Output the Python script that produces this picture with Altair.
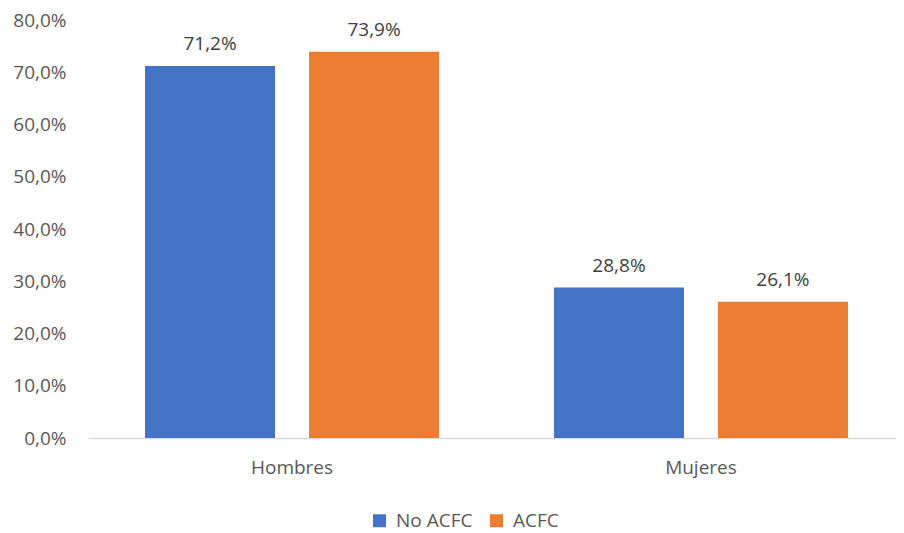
import altair as alt
import pandas as pd

categories = ["Hombres", "Mujeres"]
series = ["No ACFC", "ACFC"]
no_acfc = [0.712, 0.288]
acfc = [0.739, 0.261]

rows = []
for i, c in enumerate(categories):
    rows.append({"cat": c, "serie": series[0], "val": no_acfc[i]})
    rows.append({"cat": c, "serie": series[1], "val": acfc[i]})
df = pd.DataFrame(rows)

FONT = "Open Sans"
GRAY = "#595959"
FS = 19

base = alt.Chart(df).encode(
    x=alt.X("cat:N", sort=categories, title=None,
            scale=alt.Scale(range=[0, 817], paddingInner=0.281, paddingOuter=0.1394),
            axis=alt.Axis(labelAngle=0, labelFont=FONT, labelFontSize=FS, labelColor=GRAY,
                          labelPadding=20, ticks=False, domainColor="#D9D9D9", domainWidth=1.5)),
    xOffset=alt.XOffset("serie:N", sort=series,
                        scale=alt.Scale(paddingInner=0.207, paddingOuter=0)),
    y=alt.Y("val:Q", title=None,
            scale=alt.Scale(domain=[0, 0.8], nice=False),
            axis=alt.Axis(values=[0, 0.1, 0.2, 0.3, 0.4, 0.5, 0.6, 0.7, 0.8],
                          labelExpr="replace(format(datum.value, '.1%'), '.', ',')",
                          labelFont=FONT, labelFontSize=FS, labelColor=GRAY,
                          labelPadding=22, ticks=False, domain=False, grid=False)),
)

bars = base.mark_bar().encode(
    color=alt.Color("serie:N", sort=series,
                    scale=alt.Scale(domain=series, range=["#4472C4", "#ED7D31"]),
                    legend=alt.Legend(title=None, orient="none", direction="horizontal",
                                      legendX=282, legendY=491, symbolType="square",
                                      symbolSize=169, symbolStrokeWidth=0,
                                      labelFont=FONT, labelFontSize=FS, labelColor=GRAY,
                                      labelOffset=7, columnPadding=14, padding=0))
)

labels = base.transform_calculate(
    lab="replace(format(datum.val, '.1%'), '.', ',')"
).mark_text(baseline="bottom", dy=-12, font=FONT, fontSize=FS, color="#404040").encode(
    text="lab:N"
)

chart = (bars + labels).properties(
    width=808, height=418,
    autosize=alt.AutoSizeParams(type="none"),
    padding={"left": 80, "top": 12, "right": 0, "bottom": 110},
).configure_view(stroke=None)

chart.save("out.html", embed_options={"renderer": "svg", "actions": False})
